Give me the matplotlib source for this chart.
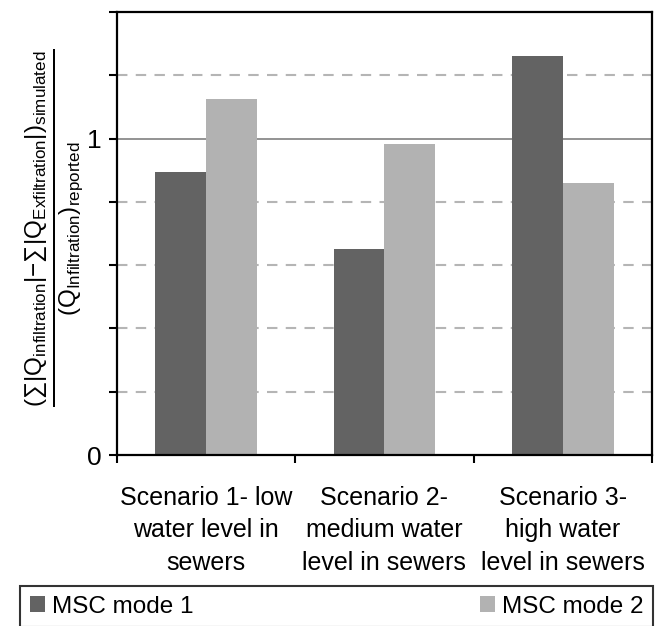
import numpy as np
import matplotlib
matplotlib.use('Agg')
import matplotlib.pyplot as plt

plt.rcParams['font.family'] = ['Liberation Sans', 'DejaVu Sans']
plt.rcParams['mathtext.fontset'] = 'custom'
plt.rcParams['mathtext.rm'] = 'Liberation Sans'
plt.rcParams['mathtext.it'] = 'Liberation Sans:italic'
plt.rcParams['mathtext.bf'] = 'Liberation Sans:bold'

# data
scenarios = ['Scenario 1- low\nwater level in\nsewers',
             'Scenario 2-\nmedium water\nlevel in sewers',
             'Scenario 3-\nhigh water\nlevel in sewers']
mode1 = [0.894, 0.651, 1.262]
mode2 = [1.125, 0.982, 0.861]
series_names = ['MSC mode 1', 'MSC mode 2']

fig = plt.figure(figsize=(6.56, 6.26), dpi=100)
ax = fig.add_axes([0.178, 0.273, 0.816, 0.708])

x = np.arange(len(scenarios))
w = 0.285

# grid lines behind the bars
for g in [0.2, 0.4, 0.6, 0.8, 1.2]:
    ax.axhline(g, color='#b5b5b5', lw=1.5, ls=(0, (5, 4)), zorder=0)
ax.axhline(1.0, color='#8a8a8a', lw=1.3, zorder=0)

ax.bar(x - w / 2, mode1, w, color='#636363', label=series_names[0], zorder=2)
ax.bar(x + w / 2, mode2, w, color='#b2b2b2', label=series_names[1], zorder=2)

ax.set_xlim(-0.5, 2.5)
ax.set_ylim(0, 1.4)

ax.set_yticks(np.arange(0, 1.41, 0.2))
ax.set_yticklabels(['0', '', '', '', '', '1', '', ''])
ax.set_xticks([-0.5, 0.5, 1.5, 2.5])
ax.set_xticklabels([])
ax.set_xticks(x, minor=True)
ax.set_xticklabels(scenarios, minor=True, linespacing=1.45)
ax.tick_params(axis='x', which='minor', length=0, pad=22, labelsize=18)
ax.tick_params(axis='x', which='major', length=6, width=1.5, direction='out')
ax.tick_params(axis='y', length=6, width=1.5, direction='out', labelsize=19, pad=5)

for s in ax.spines.values():
    s.set_linewidth(1.6)
    s.set_color('black')

ylab = (r'$\frac{(\sum|\mathrm{Q}_{\mathrm{infiltration}}|\mathrm{-}\sum|\mathrm{Q}_{\mathrm{Exfiltration}}|)_{\mathrm{simulated}}}'
        r'{(\mathrm{Q}_{\mathrm{Infiltration}})_{\mathrm{reported}}}$')
fig.text(54 / 656, 1 - 228 / 626, ylab, rotation=90, ha='center', va='center', fontsize=25)

fig.legend(loc='upper left', bbox_to_anchor=(0.031, 0.0, 0.965, 0.064), mode='expand',
           ncol=2, fontsize=17.5, frameon=True, fancybox=False, edgecolor='black',
           borderaxespad=0, handlelength=0.6, handleheight=0.6, handletextpad=0.3,
           borderpad=0.4).get_frame().set_linewidth(1.5)

fig.savefig('out.png', dpi=100)
